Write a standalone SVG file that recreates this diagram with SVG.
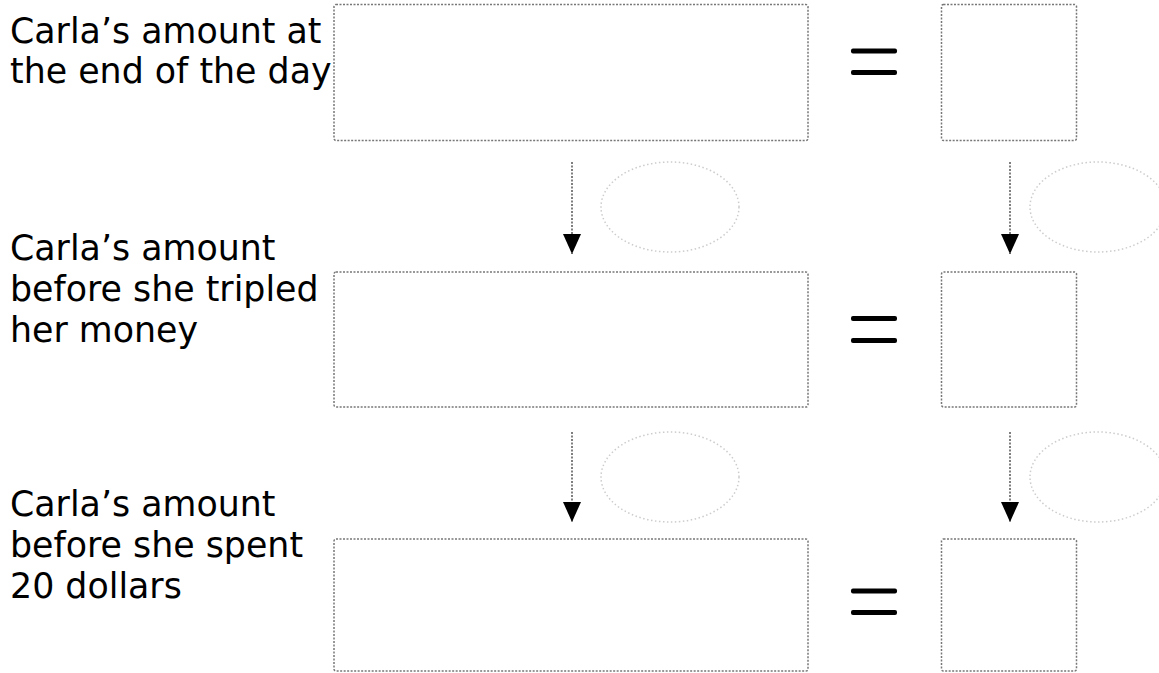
<svg xmlns="http://www.w3.org/2000/svg" width="1159" height="673" viewBox="0 0 1159 673">
<style>
.box{fill:#fff;stroke:#777;stroke-width:1.5;stroke-dasharray:2 1.5}
.oval{fill:none;stroke:#ccc;stroke-width:1.5;stroke-dasharray:1.5 2.5}
.lbl{font-family:"DejaVu Sans",Verdana,sans-serif;font-size:34.8px;fill:#000}
.eq{fill:#000}
.arr{stroke:#555;stroke-width:1.5;stroke-dasharray:2 1.5;fill:none}
</style>
<defs>
<marker id="ah" markerWidth="20" markerHeight="18" refX="20" refY="9" orient="auto" markerUnits="userSpaceOnUse" viewBox="0 0 20 18">
<path d="M0,0 L20,9 L0,18 Z" fill="#000"/>
</marker>
</defs>
<g id="label1"><text class="lbl" x="10" y="43">Carla’s amount at</text><text class="lbl" x="10" y="83">the end of the day</text></g>
<g id="label2"><text class="lbl" x="10" y="260">Carla’s amount</text><text class="lbl" x="10" y="301">before she tripled</text><text class="lbl" x="10" y="342">her money</text></g>
<g id="label3"><text class="lbl" x="10" y="516">Carla’s amount</text><text class="lbl" x="10" y="557">before she spent</text><text class="lbl" x="10" y="598">20 dollars</text></g>
<g id="box1"><rect class="box" x="334" y="4.5" width="474" height="136" rx="2"/></g>
<g id="eq1"><rect class="eq" x="851" y="48.5" width="46" height="5" rx="2"/><rect class="eq" x="851" y="70" width="46" height="5" rx="2"/></g>
<g id="res1"><rect class="box" x="941.5" y="4.5" width="135" height="136" rx="2"/></g>
<g id="box2"><rect class="box" x="334" y="272" width="474" height="135" rx="2"/></g>
<g id="eq2"><rect class="eq" x="851" y="316" width="46" height="5" rx="2"/><rect class="eq" x="851" y="338" width="46" height="5" rx="2"/></g>
<g id="res2"><rect class="box" x="941.5" y="272" width="135" height="135" rx="2"/></g>
<g id="box3"><rect class="box" x="334" y="539" width="474" height="132" rx="2"/></g>
<g id="eq3"><rect class="eq" x="851" y="588.5" width="46" height="5" rx="2"/><rect class="eq" x="851" y="610" width="46" height="5" rx="2"/></g>
<g id="res3"><rect class="box" x="941.5" y="539" width="135" height="132" rx="2"/></g>
<g id="op1"><ellipse class="oval" cx="670" cy="207" rx="69" ry="45"/></g>
<g id="op2"><ellipse class="oval" cx="1098" cy="207" rx="68" ry="45"/></g>
<g id="op3"><ellipse class="oval" cx="670" cy="477" rx="69" ry="45"/></g>
<g id="op4"><ellipse class="oval" cx="1098" cy="477" rx="68" ry="45"/></g>
<g id="connectors">
<line class="arr" x1="572" y1="162" x2="572" y2="254" marker-end="url(#ah)"/>
<line class="arr" x1="1010" y1="162" x2="1010" y2="254" marker-end="url(#ah)"/>
<line class="arr" x1="572" y1="432" x2="572" y2="522" marker-end="url(#ah)"/>
<line class="arr" x1="1010" y1="432" x2="1010" y2="522" marker-end="url(#ah)"/>
</g>
</svg>
